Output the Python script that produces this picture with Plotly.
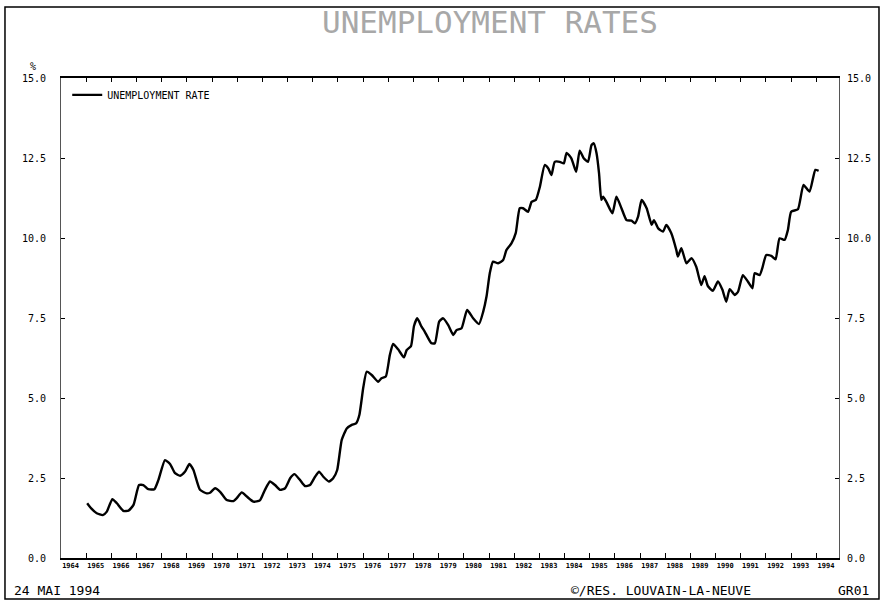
import plotly.graph_objects as go

# ---- data ----
dates = [
    1965.04, 1965.2, 1965.42, 1965.66, 1965.82, 1966.04, 1966.22, 1966.48, 1966.68, 1966.88,
    1967.1, 1967.27, 1967.47, 1967.71, 1967.87, 1968.13, 1968.33, 1968.53, 1968.73, 1968.93,
    1969.1, 1969.26, 1969.52, 1969.79, 1969.92, 1970.12, 1970.32, 1970.58, 1970.85, 1970.98,
    1971.18, 1971.38, 1971.64, 1971.9, 1972.1, 1972.3, 1972.5, 1972.7, 1972.9, 1973.1,
    1973.27, 1973.49, 1973.69, 1973.89, 1974.09, 1974.25, 1974.42, 1974.64, 1974.81, 1974.97,
    1975.15, 1975.35, 1975.55, 1975.72, 1975.85, 1976.01, 1976.14, 1976.34, 1976.6, 1976.73,
    1976.9, 1977.06, 1977.19, 1977.39, 1977.62, 1977.73, 1977.9, 1978.02, 1978.15, 1978.32,
    1978.45, 1978.71, 1978.85, 1979.02, 1979.18, 1979.38, 1979.58, 1979.71, 1979.91, 1980.13,
    1980.37, 1980.6, 1980.77, 1980.9, 1981.03, 1981.16, 1981.36, 1981.56, 1981.69, 1981.89,
    1982.06, 1982.22, 1982.35, 1982.55, 1982.69, 1982.86, 1983.02, 1983.21, 1983.35, 1983.48,
    1983.61, 1983.81, 1983.97, 1984.08, 1984.27, 1984.46, 1984.6, 1984.76, 1984.93, 1985.07,
    1985.16, 1985.27, 1985.37, 1985.46, 1985.53, 1985.66, 1985.9, 1986.06, 1986.26, 1986.46,
    1986.66, 1986.79, 1986.92, 1987.06, 1987.26, 1987.46, 1987.55, 1987.72, 1987.91, 1988.04,
    1988.24, 1988.44, 1988.5, 1988.64, 1988.84, 1989.04, 1989.23, 1989.43, 1989.56, 1989.69,
    1989.89, 1990.09, 1990.27, 1990.42, 1990.56, 1990.76, 1990.89, 1991.08, 1991.28, 1991.46,
    1991.55, 1991.75, 1991.85, 1992.01, 1992.21, 1992.38, 1992.54, 1992.74, 1992.87, 1993.0,
    1993.27, 1993.49, 1993.73, 1993.96, 1994.09,
]
unemployment_rate = [
    1.71, 1.55, 1.40, 1.34, 1.45, 1.84, 1.71, 1.47, 1.48, 1.66,
    2.28, 2.28, 2.15, 2.15, 2.44, 3.06, 2.94, 2.65, 2.57, 2.70,
    2.94, 2.75, 2.13, 2.02, 2.04, 2.18, 2.07, 1.81, 1.78, 1.87,
    2.05, 1.92, 1.76, 1.80, 2.13, 2.39, 2.28, 2.13, 2.18, 2.49,
    2.62, 2.44, 2.25, 2.28, 2.54, 2.70, 2.54, 2.39, 2.49, 2.75,
    3.69, 4.05, 4.16, 4.21, 4.47, 5.35, 5.82, 5.72, 5.51, 5.62,
    5.67, 6.34, 6.69, 6.52, 6.27, 6.50, 6.62, 7.25, 7.49, 7.23,
    7.07, 6.71, 6.71, 7.39, 7.49, 7.28, 6.97, 7.12, 7.18, 7.75,
    7.49, 7.31, 7.70, 8.17, 8.90, 9.26, 9.21, 9.31, 9.62, 9.83,
    10.15, 10.93, 10.93, 10.82, 11.13, 11.19, 11.60, 12.28, 12.18, 11.97,
    12.38, 12.38, 12.33, 12.66, 12.49, 12.07, 12.73, 12.49, 12.38, 12.90,
    12.96, 12.65, 12.02, 11.19, 11.29, 11.13, 10.77, 11.29, 10.93, 10.56,
    10.54, 10.46, 10.67, 11.19, 10.93, 10.41, 10.56, 10.30, 10.20, 10.41,
    10.15, 9.62, 9.42, 9.68, 9.21, 9.37, 9.10, 8.53, 8.81, 8.50,
    8.35, 8.64, 8.38, 8.01, 8.40, 8.22, 8.32, 8.84, 8.64, 8.43,
    8.90, 8.84, 9.05, 9.47, 9.44, 9.33, 9.99, 9.94, 10.25, 10.82,
    10.90, 11.66, 11.45, 12.13, 12.10,
]
years = list(range(1964, 1995))
year_labels = [str(y) for y in years]
y_ticks = [0.0, 2.5, 5.0, 7.5, 10.0, 12.5, 15.0]
y_tick_labels = ["%.1f" % v for v in y_ticks]

MONO = "DejaVu Sans Mono"

fig = go.Figure()
fig.add_trace(go.Scatter(
    x=dates, y=unemployment_rate, mode="lines", name="UNEMPLOYMENT RATE",
    line=dict(color="black", width=2.4, shape="spline", smoothing=0.5),
))
# helper trace so the mirrored top/right axes are drawn
fig.add_trace(go.Scatter(x=[None], y=[None], xaxis="x2", yaxis="y2",
                         showlegend=False, hoverinfo="skip"))

xr = [1964, 1994.9]
fig.update_layout(
    width=883, height=604,
    margin=dict(l=61, r=44, t=78, b=46),
    paper_bgcolor="white", plot_bgcolor="white",
    showlegend=True,
    legend=dict(x=0.008, y=0.995, xanchor="left", yanchor="top",
                bgcolor="rgba(0,0,0,0)", font=dict(family=MONO, size=10, color="black"),
                itemwidth=30),
    xaxis=dict(range=xr, showgrid=False, zeroline=False, automargin=False,
               showline=True, linecolor="black", linewidth=1.5,
               tickmode="array", tickvals=[y + 0.38 for y in years], ticktext=year_labels,
               ticks="", tickfont=dict(family=MONO, size=7, color="black", weight="bold"),
               minor=dict(tickmode="array", tickvals=years[1:], ticks="inside",
                          ticklen=5, tickcolor="black", tickwidth=1, showgrid=False)),
    xaxis2=dict(range=xr, overlaying="x", side="top", anchor="y2", showgrid=False,
                zeroline=False, showline=True, linecolor="black", linewidth=1.5,
                automargin=False,
                showticklabels=False, ticks="", tickmode="array", tickvals=[],
                minor=dict(tickmode="array", tickvals=years[1:], ticks="inside",
                           ticklen=4, tickcolor="black", tickwidth=1, showgrid=False)),
    yaxis=dict(range=[0, 15], showgrid=False, zeroline=False, automargin=False,
               showline=True, linecolor="#555", linewidth=1,
               tickmode="array", tickvals=y_ticks, ticktext=y_tick_labels,
               ticks="inside", ticklen=4, tickcolor="black",
               ticklabelstandoff=12,
               tickfont=dict(family=MONO, size=10, color="black")),
    yaxis2=dict(range=[0, 15], overlaying="y", side="right", anchor="x2",
                showgrid=False, zeroline=False, automargin=False,
                showline=True, linecolor="#555", linewidth=1,
                tickmode="array", tickvals=y_ticks, ticktext=y_tick_labels,
                ticks="inside", ticklen=4, tickcolor="black",
                ticklabelstandoff=5,
                tickfont=dict(family=MONO, size=10, color="black")),
)

# title
fig.add_annotation(text="UNEMPLOYMENT RATES", xref="paper", yref="paper",
                   x=0.551, y=1.117, xanchor="center", yanchor="middle", showarrow=False,
                   font=dict(family=MONO, size=31, color="#a8a8a8"))
# unit label
fig.add_annotation(text="%", xref="paper", yref="paper", x=-0.036, y=1.023,
                   xanchor="center", yanchor="middle", showarrow=False,
                   font=dict(family=MONO, size=10, color="black"))
# footer texts
fig.add_annotation(text="24 MAI 1994", xref="paper", yref="paper", x=-0.063, y=-0.067,
                   xanchor="left", yanchor="middle", showarrow=False,
                   font=dict(family=MONO, size=13, color="black"))
fig.add_annotation(text="©/RES. LOUVAIN-LA-NEUVE", xref="paper", yref="paper",
                   x=0.771, y=-0.067, xanchor="center", yanchor="middle", showarrow=False,
                   font=dict(family=MONO, size=13, color="black"))
fig.add_annotation(text="GR01", xref="paper", yref="paper", x=1.019, y=-0.067,
                   xanchor="center", yanchor="middle", showarrow=False,
                   font=dict(family=MONO, size=13, color="black"))

# outer frame
fig.add_shape(type="rect", xref="paper", yref="paper",
              x0=-0.072, x1=1.0514, y0=-0.0854, y1=1.148,
              line=dict(color="black", width=1.5), layer="below")

fig.write_html("out.html", config={"displayModeBar": False},
               post_script="document.body.style.margin='0';")
